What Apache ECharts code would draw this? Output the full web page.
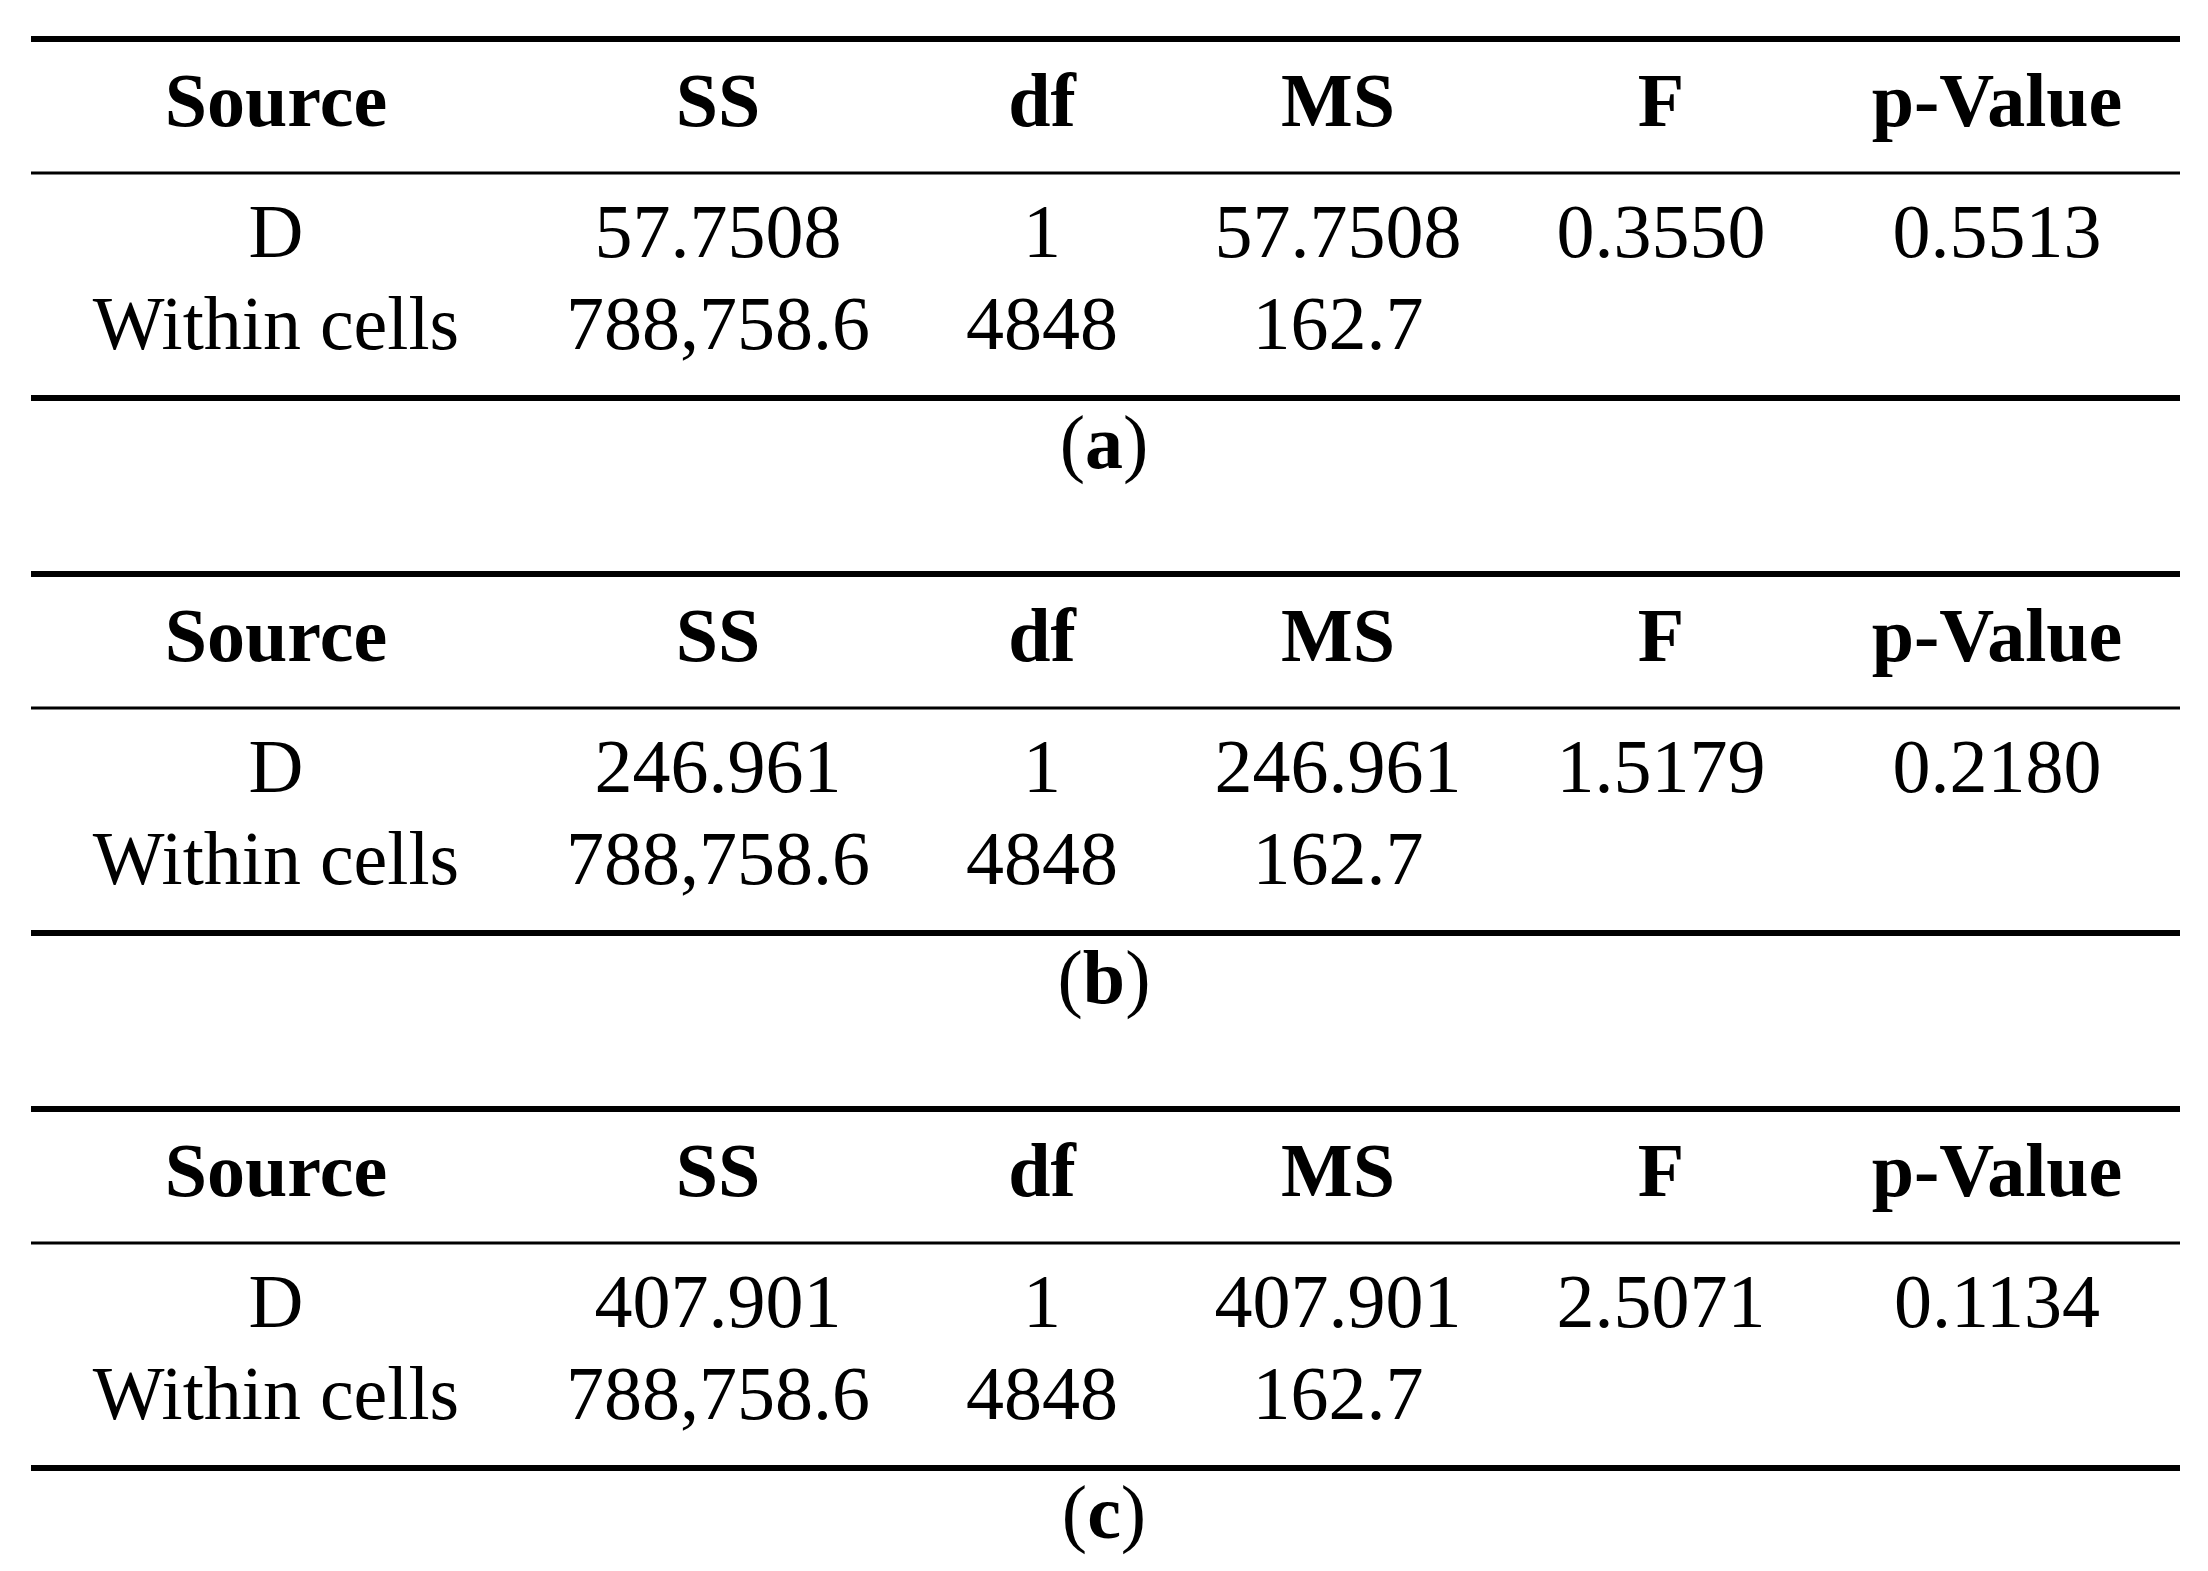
<!DOCTYPE html>
<html><head><meta charset="utf-8">
<script src="https://cdn.jsdelivr.net/npm/echarts@6/dist/echarts.min.js"></script>
<style>html,body{margin:0;background:#fff}#main{width:2208px;height:1571px}</style>
</head><body><div id="main"></div>
<script>
var headers = ['Source', 'SS', 'df', 'MS', 'F', 'p-Value'];
var captions = ['a', 'b', 'c'];
var rowsA = [['D', '57.7508', '1', '57.7508', '0.3550', '0.5513'], ['Within cells', '788,758.6', '4848', '162.7', '', '']];
var rowsB = [['D', '246.961', '1', '246.961', '1.5179', '0.2180'], ['Within cells', '788,758.6', '4848', '162.7', '', '']];
var rowsC = [['D', '407.901', '1', '407.901', '2.5071', '0.1134'], ['Within cells', '788,758.6', '4848', '162.7', '', '']];
var tables = [rowsA, rowsB, rowsC];

var myChart = echarts.init(document.getElementById('main'));
var colX = [276, 718, 1042, 1338, 1661, 1997];
var font = '"Liberation Serif", "DejaVu Serif", serif';
var els = [];
function line(y, w) {
    els.push({ type: 'rect', shape: { x: 31, y: y - w / 2, width: 2149, height: w }, style: { fill: '#000' } });
}
function txt(x, y, s, bold) {
    els.push({ type: 'text', x: x, y: y, style: { text: s, fill: '#000', font: (bold ? 'bold ' : '') + '76px ' + font, textAlign: 'center', textVerticalAlign: 'middle' } });
}
tables.forEach(function (rows, t) {
    var top = 39 + t * 535;
    line(top, 6);
    headers.forEach(function (h, i) { txt(colX[i], top + 67, h, true); });
    line(top + 134, 3);
    rows.forEach(function (r, j) {
        r.forEach(function (c, i) { if (c) txt(colX[i], top + 198 + j * 92, c, false); });
    });
    line(top + 359, 6);
    els.push({ type: 'text', x: 1104, y: top + 409, style: { rich: { n: { font: '76px ' + font }, b: { font: 'bold 76px ' + font } }, text: '{n|(}{b|' + captions[t] + '}{n|)}', fill: '#000', textAlign: 'center', textVerticalAlign: 'middle' } });
});
myChart.setOption({ graphic: { elements: els } });
</script></body></html>
